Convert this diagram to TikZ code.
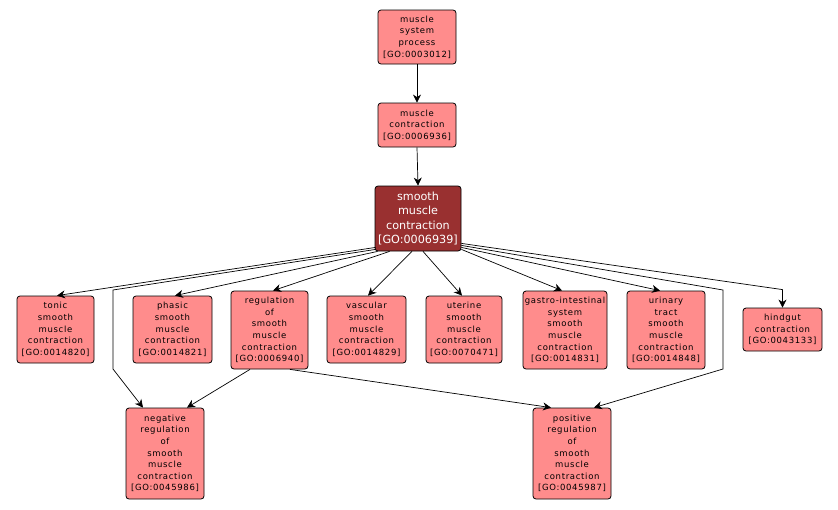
\documentclass[tikz,border=0pt]{standalone}
\usepackage{fontspec}
\newfontfamily\gofont[LetterSpace=8]{DejaVu Sans}
\newfontfamily\gofontd{DejaVu Sans}
\usetikzlibrary{arrows.meta,calc}
\definecolor{lfill}{RGB}{255,140,140}
\definecolor{dfill}{RGB}{153,48,48}
\begin{document}
\begin{tikzpicture}[x=1pt,y=-1pt,
  lbox/.style={draw=black, fill=lfill, rounded corners=3pt, line width=0.8pt, align=center, inner sep=0pt, font=\gofont\fontsize{8.5}{11.6}\selectfont},
  dbox/.style={draw=black, fill=dfill, text=white, rounded corners=3pt, line width=0.8pt, align=center, inner sep=0pt, font=\gofontd\fontsize{11.2}{14.6}\selectfont},
  edge/.style={draw=black, line width=0.7pt, -{Stealth[length=8pt,width=8pt,inset=2.5pt]}}]
\useasboundingbox[fill=white] (0,0) rectangle (838,509);
% top chain
\node[lbox, minimum width=78pt, minimum height=54pt] (msp) at (417,37) {muscle\\system\\process\\{}[GO:0003012]};
\node[lbox, minimum width=78pt, minimum height=44pt] (mc) at (417,125) {muscle\\contraction\\{}[GO:0006936]};
\node[dbox, minimum width=86pt, minimum height=65pt] (smc) at (418,218.5) {smooth\\muscle\\contraction\\{}[GO:0006939]};
% second row
\node[lbox, minimum width=77pt, minimum height=67pt] (tonic) at (55.5,329.5) {tonic\\smooth\\muscle\\contraction\\{}[GO:0014820]};
\node[lbox, minimum width=79pt, minimum height=67pt] (phasic) at (172.5,329.5) {phasic\\smooth\\muscle\\contraction\\{}[GO:0014821]};
\node[lbox, minimum width=77pt, minimum height=78pt] (reg) at (269.5,330) {regulation\\of\\smooth\\muscle\\contraction\\{}[GO:0006940]};
\node[lbox, minimum width=79pt, minimum height=67pt] (vasc) at (366.5,329.5) {vascular\\smooth\\muscle\\contraction\\{}[GO:0014829]};
\node[lbox, minimum width=76pt, minimum height=67pt] (uter) at (464,329.5) {uterine\\smooth\\muscle\\contraction\\{}[GO:0070471]};
\node[lbox, minimum width=84pt, minimum height=78pt] (gastro) at (565,330) {gastro-intestinal\\system\\smooth\\muscle\\contraction\\{}[GO:0014831]};
\node[lbox, minimum width=78pt, minimum height=78pt] (urin) at (666,330) {urinary\\tract\\smooth\\muscle\\contraction\\{}[GO:0014848]};
\node[lbox, minimum width=79pt, minimum height=43pt] (hind) at (782.5,329.5) {hindgut\\contraction\\{}[GO:0043133]};
% third row
\node[lbox, minimum width=78pt, minimum height=91pt] (neg) at (165,453.5) {negative\\regulation\\of\\smooth\\muscle\\contraction\\{}[GO:0045986]};
\node[lbox, minimum width=78pt, minimum height=91pt] (pos) at (572,453.5) {positive\\regulation\\of\\smooth\\muscle\\contraction\\{}[GO:0045987]};
% edges
\draw[edge] (msp.south) -- (mc.north);
\draw[edge] (mc.south) -- (smc.north);
\draw[edge] ($(smc.south west)+(1,-4)$) -- ($(tonic.north)+(1.5,0)$);
\draw[edge] ($(smc.south west)+(1,-2)$) -- (113,290) -- (113,369) -- ($(neg.north)+(-22,0)$);
\draw[edge] ($(smc.south west)+(3,0)$) -- ($(phasic.north)+(2.5,0)$);
\draw[edge] ($(smc.south west)+(15,0)$) -- ($(reg.north)+(3.5,0)$);
\draw[edge] ($(smc.south)+(-6,0)$) -- ($(vasc.north)+(1.5,0)$);
\draw[edge] ($(smc.south)+(5,0)$) -- ($(uter.north)+(-2,0)$);
\draw[edge] ($(smc.south east)+(0,-2)$) -- ($(gastro.north)+(-3,0)$);
\draw[edge] ($(smc.south east)+(0,-4)$) -- ($(urin.north)+(-6,0)$);
\draw[edge] ($(smc.south east)+(0,-6)$) -- (723,290) -- (723,369) -- ($(pos.north)+(22,0)$);
\draw[edge] ($(smc.south east)+(0,-8)$) -- ($(hind.north)+(0,-18)$) -- (hind.north);
\draw[edge] ($(reg.south)+(-19.5,0)$) -- ($(neg.north)+(22,0)$);
\draw[edge] ($(reg.south)+(20.5,0)$) -- ($(pos.north)+(-21,0)$);
\end{tikzpicture}
\end{document}
